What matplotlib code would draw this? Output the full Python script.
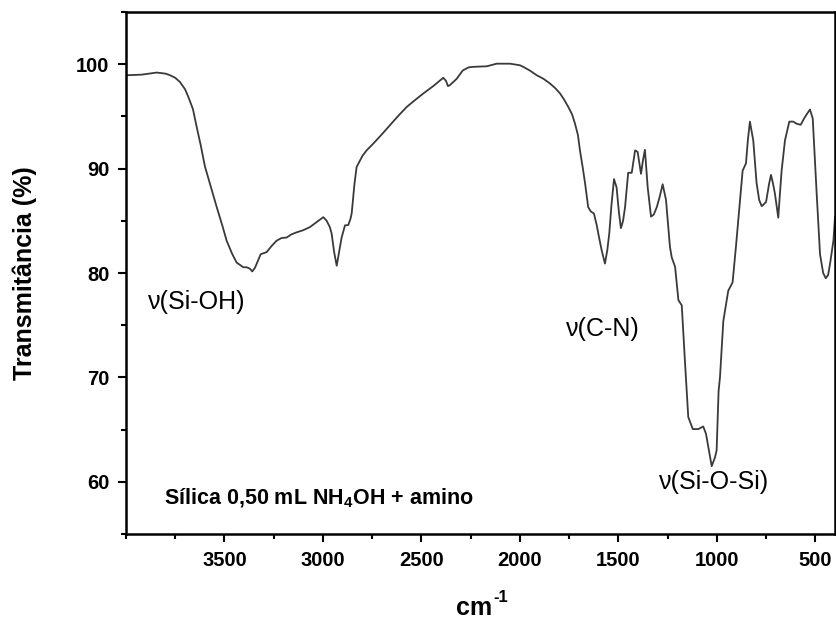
import matplotlib
matplotlib.use("Agg")
import matplotlib.pyplot as plt
from matplotlib.ticker import MultipleLocator

plt.rcParams['font.family'] = ['Liberation Sans', 'DejaVu Sans']
plt.rcParams['mathtext.fontset'] = 'custom'
plt.rcParams['mathtext.rm'] = 'Liberation Sans'
plt.rcParams['mathtext.bf'] = 'Liberation Sans:bold'

# FTIR spectrum (wavenumber cm-1, transmittance %)
wavenumber = [4000, 3988, 3920, 3844, 3800, 3777, 3750, 3726, 3700, 3684,
              3660, 3641, 3620, 3599, 3570, 3539, 3510, 3489, 3460, 3438,
              3404, 3387, 3370, 3359, 3345, 3336, 3316, 3286, 3260, 3235,
              3210, 3184, 3160, 3133, 3100, 3066, 3030, 2998, 2981, 2965,
              2956, 2943, 2930, 2918, 2905, 2888, 2871, 2860, 2854, 2840,
              2829, 2800, 2778, 2744, 2700, 2660, 2620, 2575, 2530, 2490,
              2440, 2389, 2375, 2365, 2355, 2338, 2321, 2290, 2260, 2236,
              2168, 2118, 2050, 2000, 1983, 1950, 1915, 1880, 1847, 1820,
              1796, 1775, 1754, 1735, 1720, 1705, 1695, 1680, 1669, 1653,
              1640, 1624, 1610, 1602, 1585, 1568, 1556, 1546, 1535, 1522,
              1509, 1497, 1487, 1476, 1466, 1450, 1432, 1415, 1402, 1393,
              1385, 1375, 1365, 1358, 1351, 1334, 1320, 1305, 1290, 1275,
              1258, 1238, 1229, 1212, 1195, 1178, 1162, 1145, 1122, 1094,
              1069, 1055, 1040, 1026, 1010, 1001, 991, 984, 967, 942,
              920, 903, 882, 869, 852, 842, 832, 815, 798, 785,
              772, 750, 735, 725, 715, 705, 688, 680, 671, 654,
              632, 612, 595, 574, 557, 540, 527, 513, 493, 476,
              460, 447, 435, 425, 408, 400]
transmittance = [98.9, 98.95, 99.0, 99.2, 99.1, 98.95, 98.7, 98.3, 97.6, 96.9,
                 95.7, 94.0, 92.2, 90.2, 88.3, 86.3, 84.5, 83.1, 81.8, 81.0,
                 80.55, 80.55, 80.4, 80.15, 80.5, 80.9, 81.8, 82.0, 82.6, 83.1,
                 83.35, 83.4, 83.7, 83.9, 84.1, 84.4, 84.9, 85.35, 85.0, 84.4,
                 83.8, 82.0, 80.7, 82.0, 83.4, 84.56, 84.6, 85.2, 85.7, 88.5,
                 90.15, 91.2, 91.75, 92.4, 93.3, 94.15, 95.0, 95.9, 96.6, 97.2,
                 97.9, 98.7, 98.4, 97.9, 98.0, 98.3, 98.6, 99.4, 99.7, 99.75,
                 99.8, 100.05, 100.05, 99.9, 99.75, 99.4, 98.95, 98.6, 98.15, 97.7,
                 97.2, 96.6, 95.9, 95.2, 94.3, 93.2, 91.75, 90.0, 88.6, 86.3,
                 85.9, 85.7, 84.6, 83.8, 82.2, 80.9, 82.2, 83.8, 86.5, 89.0,
                 88.2, 85.8, 84.3, 85.0, 86.3, 89.6, 89.6, 91.75, 91.6, 90.5,
                 89.5, 90.8, 91.8, 90.0, 88.2, 85.4, 85.6, 86.3, 87.3, 88.5,
                 87.0, 82.5, 81.5, 80.6, 77.4, 76.9, 71.6, 66.2, 65.05, 65.05,
                 65.3, 64.6, 63.0, 61.5, 62.3, 63.0, 68.7, 70.0, 75.4, 78.3,
                 79.1, 82.5, 87.0, 89.8, 90.5, 92.8, 94.5, 92.7, 88.6, 87.0,
                 86.4, 86.8, 88.5, 89.4, 88.6, 87.6, 85.3, 87.5, 89.8, 92.7,
                 94.5, 94.5, 94.3, 94.2, 94.8, 95.3, 95.66, 94.8, 87.6, 81.8,
                 80.0, 79.5, 79.8, 80.9, 83.1, 85.35]

# band labels: text, x, y
band_labels = ['ν(Si-OH)', 'ν(C-N)', 'ν(Si-O-Si)']
band_x = [3888, 1766, 1294]
band_y = [76.6, 74.0, 59.3]

sample_label = r'Sílica 0,50 mL NH$_{\mathbf{4}}$OH + amino'

fig = plt.figure(figsize=(8.37, 6.19), dpi=100)
ax = fig.add_axes([0.1505, 0.1373, 0.8471, 0.8433])

ax.plot(wavenumber, transmittance, color='#3a3a3a', linewidth=1.3)

ax.set_xlim(4000, 400)
ax.set_ylim(55, 105)
ax.xaxis.set_major_locator(MultipleLocator(500))
ax.xaxis.set_minor_locator(MultipleLocator(250))
ax.yaxis.set_major_locator(MultipleLocator(10))
ax.yaxis.set_minor_locator(MultipleLocator(5))

for s in ax.spines.values():
    s.set_linewidth(1.8)
ax.tick_params(which='major', direction='out', length=6, width=1.5,
               labelsize=14.5, pad=6)
ax.tick_params(which='minor', direction='out', length=3.5, width=1.5)
ax.tick_params(top=False, right=False, which='both')

ax.set_xticks([3500, 3000, 2500, 2000, 1500, 1000, 500])
ax.set_xticklabels(['3500', '3000', '2500', '2000', '1500', '1000', '500'])
for lbl in ax.get_xticklabels() + ax.get_yticklabels():
    lbl.set_fontweight('bold')

# x label is "cm" with a small "-1" placed as superscript
ax.text(0.516, -0.155, 'cm', transform=ax.transAxes, fontsize=18,
        fontweight='bold', ha='right', va='baseline')
ax.text(0.5175, -0.13, '-1', transform=ax.transAxes, fontsize=12,
        fontweight='bold', ha='left', va='baseline')
ax.set_ylabel('Transmitância (%)', fontsize=18, fontweight='bold')
ax.yaxis.set_label_coords(-0.1255, 0.5)

for txt, x, y in zip(band_labels, band_x, band_y):
    ax.text(x, y, txt, fontsize=18, ha='left', va='baseline')

ax.text(3807, 57.8, sample_label, fontsize=15.5, fontweight='bold',
        ha='left', va='baseline')

fig.savefig('out.png', dpi=100)
